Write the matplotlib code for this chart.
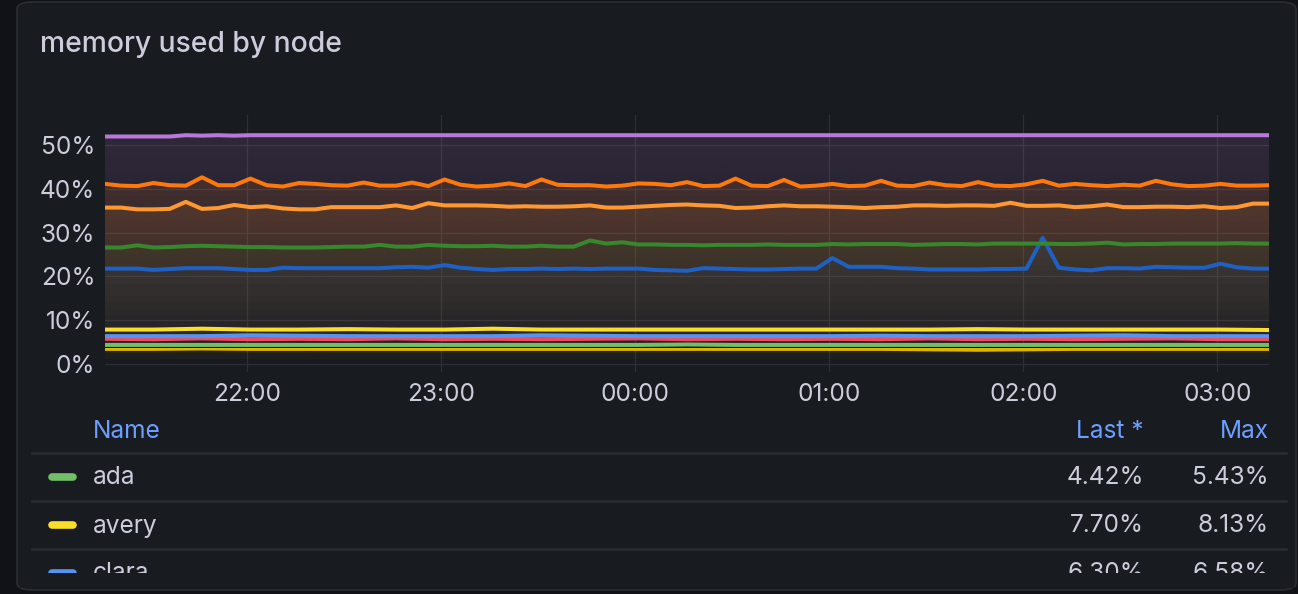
import numpy as np
import pandas as pd
import matplotlib
matplotlib.use("Agg")
import matplotlib.pyplot as plt
import matplotlib.dates as mdates
import matplotlib.colors as mcolors
from matplotlib.patches import Polygon, FancyBboxPatch, Rectangle
from matplotlib.lines import Line2D

plt.rcParams['font.family'] = ['Inter', 'DejaVu Sans']

# ---------------- data ----------------
title = "memory used by node"

# 5 minute samples, 21:16 -> 03:16
t5 = pd.date_range("2024-01-01 21:16", "2024-01-02 03:16", freq="5min")

purple = [51.9, 51.9, 51.9, 51.9, 51.9, 52.2, 52.1, 52.2, 52.1, 52.2, 52.2, 52.2, 52.2, 52.2, 52.2,
          52.2, 52.2, 52.2, 52.2, 52.2, 52.2, 52.2, 52.2, 52.2, 52.2, 52.2, 52.2, 52.2, 52.2, 52.2,
          52.2, 52.2, 52.2, 52.2, 52.2, 52.2, 52.2, 52.2, 52.2, 52.2, 52.2, 52.2, 52.2, 52.2, 52.2,
          52.2, 52.2, 52.2, 52.2, 52.2, 52.2, 52.2, 52.2, 52.2, 52.2, 52.2, 52.2, 52.2, 52.2, 52.2,
          52.2, 52.2, 52.2, 52.2, 52.2, 52.2, 52.2, 52.2, 52.2, 52.2, 52.2, 52.2, 52.2]

dark_orange = [41.1, 40.7, 40.6, 41.3, 40.8, 40.7, 42.6, 40.8, 40.8, 42.3, 40.8, 40.5, 41.3, 41.1, 40.8,
               40.7, 41.4, 40.7, 40.7, 41.4, 40.6, 42.1, 40.9, 40.5, 40.7, 41.2, 40.6, 42.1, 40.9, 40.8,
               40.8, 40.5, 40.7, 41.2, 41.1, 40.8, 41.5, 40.6, 40.7, 42.3, 40.7, 40.6, 42.0, 40.5, 40.7,
               41.1, 40.6, 40.7, 41.8, 40.7, 40.6, 41.4, 40.8, 40.6, 41.5, 40.7, 40.6, 41.0, 41.8, 40.7,
               41.1, 40.8, 40.6, 40.9, 40.7, 41.8, 41.0, 40.6, 40.7, 41.1, 40.7, 40.7, 40.8]

light_orange = [35.7, 35.7, 35.3, 35.3, 35.4, 37.0, 35.4, 35.6, 36.3, 35.8, 36.0, 35.5, 35.3, 35.3, 35.8,
                35.8, 35.8, 35.8, 36.2, 35.6, 36.7, 36.2, 36.2, 36.2, 36.1, 35.9, 36.0, 35.9, 35.9, 36.0,
                36.2, 35.7, 35.7, 35.9, 36.1, 36.3, 36.4, 36.2, 36.1, 35.6, 35.7, 36.0, 36.2, 36.0, 36.0,
                35.9, 35.8, 35.6, 35.8, 35.9, 36.2, 36.2, 36.1, 36.2, 36.2, 36.1, 36.8, 36.1, 36.1, 36.2,
                35.8, 36.0, 36.4, 35.8, 35.8, 35.9, 35.9, 35.8, 36.0, 35.6, 35.8, 36.6, 36.6]

dark_green = [26.6, 26.6, 27.1, 26.6, 26.7, 26.9, 27.0, 26.9, 26.8, 26.7, 26.7, 26.6, 26.6, 26.6, 26.7,
              26.8, 26.8, 27.2, 26.8, 26.8, 27.2, 27.0, 26.9, 26.9, 27.0, 26.8, 26.8, 27.0, 26.8, 26.8,
              28.2, 27.5, 27.8, 27.3, 27.3, 27.2, 27.2, 27.1, 27.2, 27.2, 27.2, 27.3, 27.2, 27.2, 27.2,
              27.4, 27.3, 27.4, 27.4, 27.4, 27.2, 27.3, 27.4, 27.4, 27.3, 27.5, 27.5, 27.5, 27.5, 27.4,
              27.4, 27.5, 27.7, 27.3, 27.4, 27.4, 27.5, 27.5, 27.5, 27.5, 27.6, 27.5, 27.5]

dark_blue = [21.8, 21.8, 21.8, 21.5, 21.7, 21.9, 21.9, 21.9, 21.7, 21.5, 21.5, 22.0, 21.9, 21.9, 21.9,
             21.9, 21.9, 21.9, 22.1, 22.2, 22.0, 22.6, 22.0, 21.7, 21.5, 21.7, 21.7, 21.8, 21.7, 21.8,
             21.7, 21.8, 21.8, 21.8, 21.5, 21.4, 21.3, 21.9, 21.8, 21.7, 21.6, 21.6, 21.7, 21.8, 21.8,
             24.2, 22.2, 22.2, 22.2, 21.9, 21.8, 21.6, 21.6, 21.6, 21.6, 21.7, 21.7, 21.8, 28.8, 22.0,
             21.6, 21.4, 21.9, 21.9, 21.8, 22.2, 22.1, 22.0, 22.0, 22.9, 22.1, 21.8, 21.8]

# 15 minute samples for the flat low series
t15 = pd.date_range("2024-01-01 21:16", "2024-01-02 03:16", freq="15min")

avery = [7.9, 7.9, 8.1, 7.9, 7.9, 8.0, 7.9, 7.9, 8.1, 7.9, 7.9, 7.9, 7.9, 7.9, 7.9,
         7.9, 7.9, 7.9, 8.0, 7.9, 7.9, 7.9, 7.9, 7.9, 7.8]
clara = [6.4, 6.4, 6.4, 6.6, 6.5, 6.4, 6.4, 6.4, 6.4, 6.6, 6.5, 6.4, 6.4, 6.4, 6.4,
         6.4, 6.5, 6.4, 6.4, 6.4, 6.5, 6.6, 6.4, 6.4, 6.4]
red_node = [5.8, 5.7, 5.9, 5.7, 5.8, 5.7, 5.9, 5.7, 5.8, 5.7, 5.8, 5.9, 5.7, 5.8, 5.7,
            5.8, 5.7, 5.9, 5.7, 5.8, 5.7, 5.8, 5.9, 5.7, 5.7]
dark_node = [4.0, 4.0, 4.0, 4.0, 4.0, 4.0, 4.0, 4.0, 4.0, 4.0, 4.0, 4.0, 4.0, 4.0, 4.0,
             4.0, 4.0, 4.0, 4.0, 4.0, 4.0, 4.0, 4.0, 4.0, 4.0]
ada = [4.4, 4.4, 4.4, 4.4, 4.4, 4.4, 4.4, 4.4, 4.4, 4.4, 4.4, 4.4, 4.5, 4.4, 4.4,
       4.4, 4.4, 4.4, 4.4, 4.4, 4.4, 4.4, 4.4, 4.4, 4.4]
gold = [3.5, 3.5, 3.6, 3.5, 3.5, 3.5, 3.5, 3.5, 3.5, 3.5, 3.5, 3.5, 3.5, 3.5, 3.5,
        3.5, 3.5, 3.4, 3.3, 3.4, 3.5, 3.5, 3.5, 3.5, 3.5]

series = [
    (t5, purple, "#B877D9"),
    (t5, dark_orange, "#FF780A"),
    (t5, light_orange, "#FF9830"),
    (t5, dark_green, "#37872D"),
    (t5, dark_blue, "#1F60C4"),
    (t15, avery, "#FADE2A"),
    (t15, clara, "#5794F2"),
    (t15, red_node, "#F2495C"),
    (t15, ada, "#73BF69"),
    (t15, dark_node, "#0b0c0e"),
    (t15, gold, "#E0B400"),
]

legend_names = ["ada", "avery", "clara"]
legend_colors = ["#73BF69", "#FADE2A", "#5794F2"]
legend_last = ["4.42%", "7.70%", "6.30%"]
legend_max = ["5.43%", "8.13%", "6.58%"]

# ---------------- figure ----------------
W, H = 1298, 594
BG_OUT = "#111217"
BG_PANEL = "#181b1f"
TXT = "#ccccdc"
GRID = "#2c2f35"

fig = plt.figure(figsize=(W / 100, H / 100), dpi=100, facecolor=BG_OUT)


def fx(x):
    return x / W


def fy(y):
    return 1 - y / H


panel = FancyBboxPatch((fx(17), fy(590)), fx(1296 - 17), (590 - 2) / H,
                       boxstyle="round,pad=0,rounding_size=0.012",
                       transform=fig.transFigure, facecolor=BG_PANEL,
                       edgecolor="#2a2d33", linewidth=1.2, zorder=-5)
fig.patches.append(panel)

fig.text(fx(40), fy(44), title, color=TXT, fontsize=20.4, fontweight="medium",
         va="center", ha="left")

ymin, ymax = -1.7, 56.8
ax = fig.add_axes([fx(105), fy(371.7), fx(1269 - 105), (371.7 - 115) / H])
ax.set_zorder(2)
ax.set_facecolor(BG_PANEL)
for s in ax.spines.values():
    s.set_visible(False)

x0 = mdates.date2num(t5[0])
x1 = mdates.date2num(t5[-1])
fo = 0.16
for tt, vals, col in series:
    if col == "#0b0c0e":
        continue
    xn = mdates.date2num(tt)
    rgb = mcolors.to_rgb(col)
    img = np.zeros((256, 1, 4))
    img[:, 0, :3] = rgb
    img[:, 0, 3] = np.linspace(fo, 0, 256)
    im = ax.imshow(img, aspect="auto", extent=[x0, x1, ymin, ymax], origin="upper",
                   interpolation="bilinear", zorder=1)
    verts = np.column_stack([np.r_[xn[0], xn, xn[-1]], np.r_[0, vals, 0]])
    poly = Polygon(verts, closed=True, facecolor="none", edgecolor="none")
    ax.add_patch(poly)
    im.set_clip_path(poly)

for tt, vals, col in series[::-1]:
    lw = 1.3 if col == "#0b0c0e" else 2.9
    ax.plot(tt, vals, color=col, lw=lw, solid_joinstyle="round", zorder=3)

ax.set_xlim(x0, x1)
ax.set_ylim(ymin, ymax)
ax.set_yticks([0, 10, 20, 30, 40, 50])
ax.set_yticklabels(["0%", "10%", "20%", "30%", "40%", "50%"])
ax.xaxis.set_major_locator(mdates.HourLocator())
ax.xaxis.set_major_formatter(mdates.DateFormatter("%H:%M"))
ax.tick_params(axis="both", length=0, colors=TXT, labelsize=17.6)
ax.tick_params(axis="y", pad=7)
ax.tick_params(axis="x", pad=8)
ax.grid(True, color=GRID, lw=0.9, zorder=0)
ax.set_axisbelow(True)

# ---------------- legend table ----------------
HDR = "#6E9FFF"
FS = 17.6
fig.text(fx(93), fy(432), "Name", color=HDR, fontsize=FS, va="center", ha="left")
fig.text(fx(1144), fy(432), "Last *", color=HDR, fontsize=FS, va="center", ha="right")
fig.text(fx(1269), fy(432), "Max", color=HDR, fontsize=FS, va="center", ha="right")

for ysep in [453, 501, 549]:
    fig.add_artist(Line2D([fx(32), fx(1286)], [fy(ysep), fy(ysep)], color="#2a2d33",
                          lw=1.8, transform=fig.transFigure))

for i, name in enumerate(legend_names):
    yr = 478 + 48 * i
    fig.add_artist(Line2D([fx(52), fx(73)], [fy(yr - 1), fy(yr - 1)], color=legend_colors[i],
                          lw=5.5, solid_capstyle="round", transform=fig.transFigure))
    fig.text(fx(93), fy(yr), name, color=TXT, fontsize=FS, va="center", ha="left")
    fig.text(fx(1144), fy(yr), legend_last[i], color=TXT, fontsize=FS, va="center", ha="right")
    fig.text(fx(1269), fy(yr), legend_max[i], color=TXT, fontsize=FS, va="center", ha="right")

# legend scroll area is cut off at the bottom
fig.add_artist(Rectangle((fx(20), fy(588)), fx(1274), (588 - 573) / H,
                         transform=fig.transFigure, facecolor=BG_PANEL,
                         edgecolor="none", zorder=5))

fig.savefig("out.png", dpi=100, facecolor=BG_OUT)
